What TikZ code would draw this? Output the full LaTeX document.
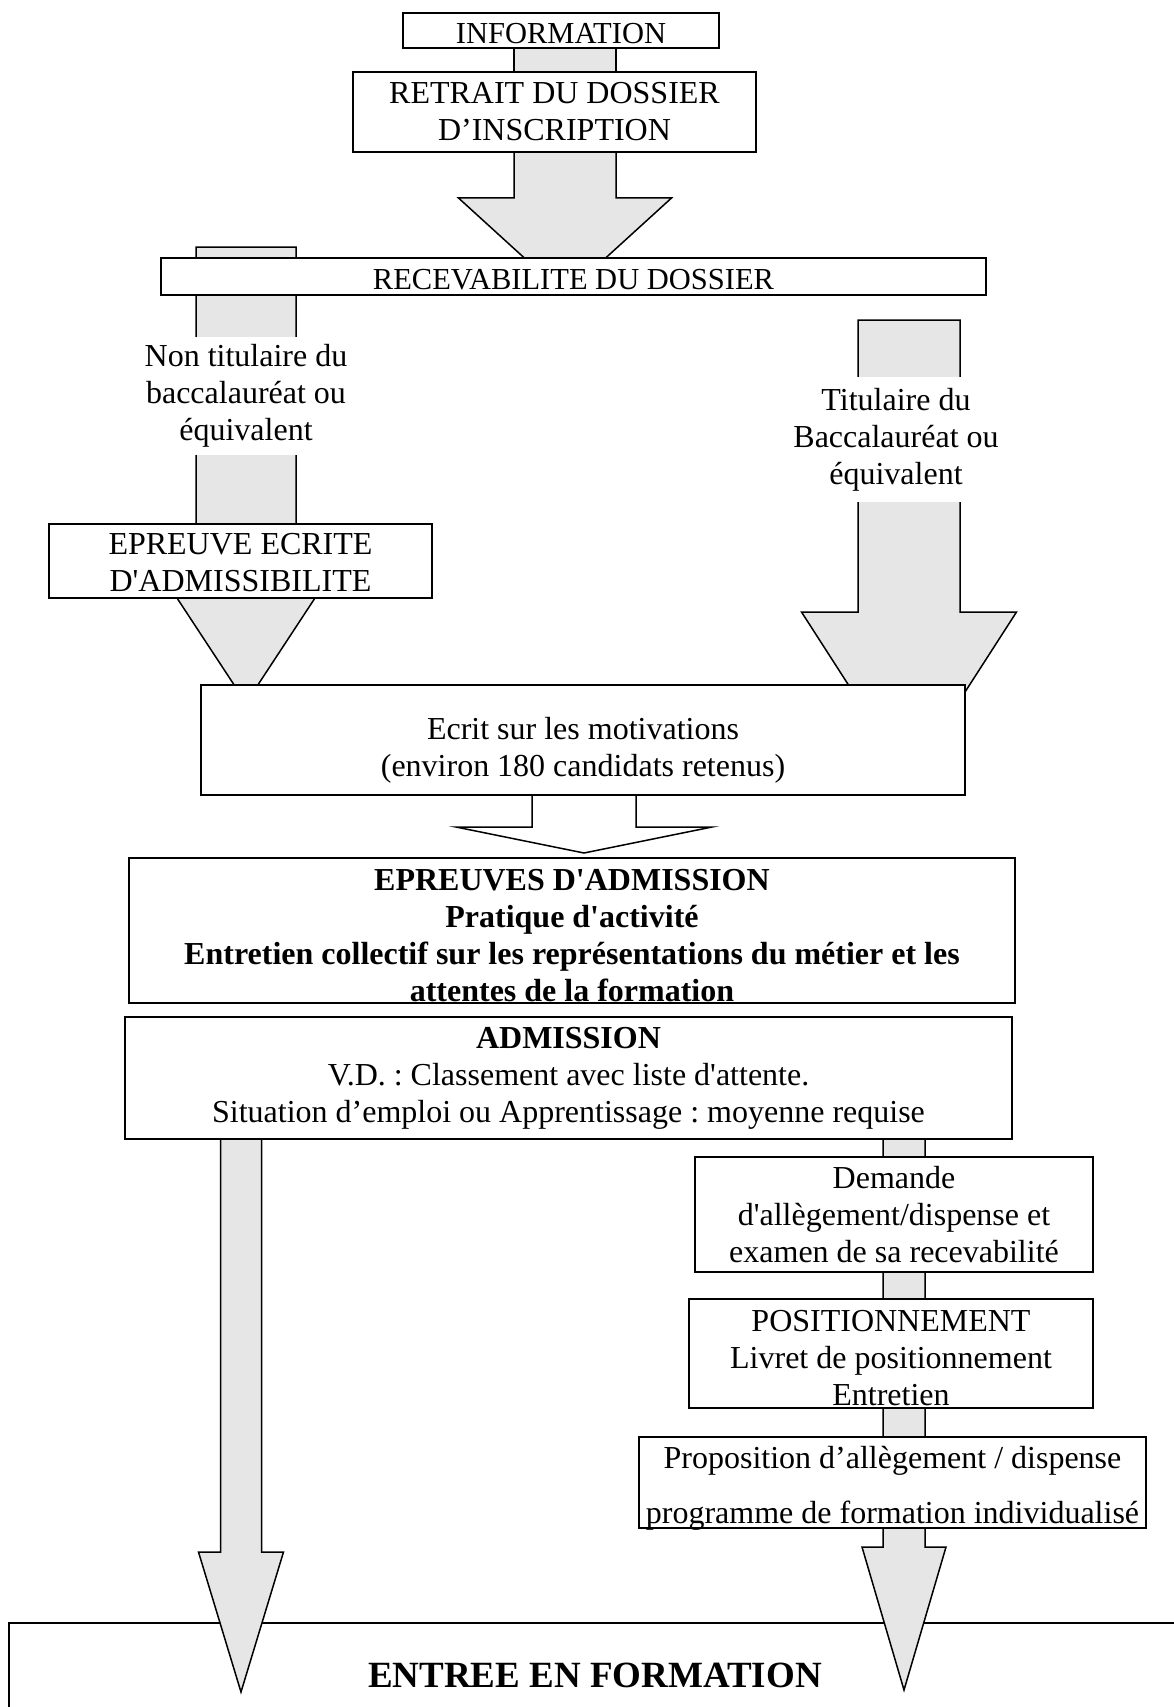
\documentclass[tikz,border=0pt]{standalone}
\usepackage{fontspec}
\setmainfont{Liberation Serif}
\usetikzlibrary{calc}
\definecolor{agray}{RGB}{230,230,230}
\frenchspacing
\tikzset{
  box/.style={draw=black, line width=1.5pt, fill=white, inner sep=0pt, align=center,
    font=\fontsize{32}{37}\selectfont},
  smallbox/.style={box, font=\fontsize{30.5}{37}\selectfont},
  labeltext/.style={fill=white, inner xsep=2pt, inner ysep=0pt, align=center,
    font=\fontsize{32}{37}\selectfont},
  arrowline/.style={draw=black, line width=1.5pt, line join=miter},
}
% lower a line of text without changing its size
\newcommand{\dn}[2]{\raisebox{-#1}[\height][\depth]{#2}}
% #1 fill, #2 start coordinate, #3 tip coordinate, #4 shaft half width, #5 head half width, #6 head length
\newcommand{\blockarrow}[6][agray]{%
  \draw[arrowline, fill=#1] let \p1=(#2), \p2=(#3) in
    (\x1-#4,\y1) -- (\x1-#4,\y2+#6) -- (\x1-#5,\y2+#6) -- (\x2,\y2)
    -- (\x1+#5,\y2+#6) -- (\x1+#4,\y2+#6) -- (\x1+#4,\y1) -- cycle;}
\begin{document}
\begin{tikzpicture}[x=1pt,y=-1pt]
\useasboundingbox (0,0) rectangle (1174,1707);
\clip (0,0) rectangle (1174,1707);
\fill[white] (0,0) rectangle (1174,1707);

% final box (under the arrows)
\node[box, minimum width=1172, minimum height=104,
  font=\fontsize{37}{44}\selectfont\bfseries] (entree) at (595,1675) {ENTREE EN FORMATION};

% arrow coordinates
\coordinate (a0s) at (565,40);   \coordinate (a0e) at (565,80);
\coordinate (a1s) at (565,140);  \coordinate (a1e) at (565,295);
\coordinate (a2s) at (246,247);  \coordinate (a2e) at (246,703);
\coordinate (a3s) at (909,320);  \coordinate (a3e) at (909,779);
\coordinate (a4s) at (584,785);  \coordinate (a4e) at (584,853);
\coordinate (a5s) at (241,1130); \coordinate (a5e) at (241,1692);
\coordinate (a6s) at (904,1130); \coordinate (a6e) at (904,1690);

% arrows
\draw[arrowline, fill=agray] ($(a0s)+(-51,0)$) rectangle ($(a0e)+(51,0)$);
\blockarrow{a1s}{a1e}{51}{106.5}{97}
\blockarrow{a2s}{a2e}{50}{69}{105}
\blockarrow{a3s}{a3e}{51}{107.5}{167}
\blockarrow[white]{a4s}{a4e}{52}{128}{26}
\blockarrow{a5s}{a5e}{20.5}{42.5}{140}
\blockarrow{a6s}{a6e}{21}{42}{143}

% boxes
\node[smallbox, minimum width=316, minimum height=35] (info) at (561,30.5) {\dn{3pt}{INFORMATION}};
\node[box, minimum width=403, minimum height=80] (retrait) at (554.5,112) {RETRAIT DU DOSSIER\\D’INSCRIPTION};
\node[smallbox, minimum width=825, minimum height=37] (recev) at (573.5,276.5) {\dn{3pt}{RECEVABILITE DU DOSSIER}};
\node[box, minimum width=383, minimum height=74] (ecrite) at (240.5,561) {\dn{2pt}{EPREUVE ECRITE}\\\dn{2pt}{D\textquotesingle ADMISSIBILITE}};
\node[box, minimum width=764, minimum height=110] (motiv) at (583,740) {\dn{10pt}{Ecrit sur les motivations}\\\dn{10pt}{(environ 180 candidats retenus)}};
\node[box, minimum width=886, minimum height=145, font=\fontsize{32}{37}\selectfont\bfseries] (epreuves) at (572,930.5)
  {\dn{5pt}{EPREUVES D\textquotesingle ADMISSION}\\\dn{5pt}{Pratique d\textquotesingle activité}\\\dn{5pt}{Entretien collectif sur les représentations du métier et les}\\\dn{5pt}{attentes de la formation}};
\node[box, minimum width=887, minimum height=122] (admission) at (568.5,1078)
  {\textbf{ADMISSION}\\V.D. : Classement avec liste d\textquotesingle attente.\\Situation d’emploi ou Apprentissage : moyenne requise};
\node[box, minimum width=398, minimum height=115] (demande) at (894,1214.5)
  {Demande\\d\textquotesingle allègement/dispense et\\examen de sa recevabilité};
\node[box, minimum width=404, minimum height=109] (position) at (891,1353.5)
  {\dn{5pt}{POSITIONNEMENT}\\\dn{5pt}{Livret de positionnement}\\\dn{5pt}{Entretien}};
\node[box, minimum width=507, minimum height=91, font=\fontsize{32}{55}\selectfont] (propo) at (892.5,1482.5)
  {\dn{6pt}{Proposition d’allègement / dispense}\\\dn{6pt}{programme de formation individualisé}};

% labels on the shafts
\node[labeltext, minimum height=118] (nontit) at (246,396) {Non titulaire du\\baccalauréat ou\\équivalent};
\node[labeltext, minimum height=125] (tit) at (896,439.5) {Titulaire du\\Baccalauréat ou\\équivalent};
\end{tikzpicture}
\end{document}
